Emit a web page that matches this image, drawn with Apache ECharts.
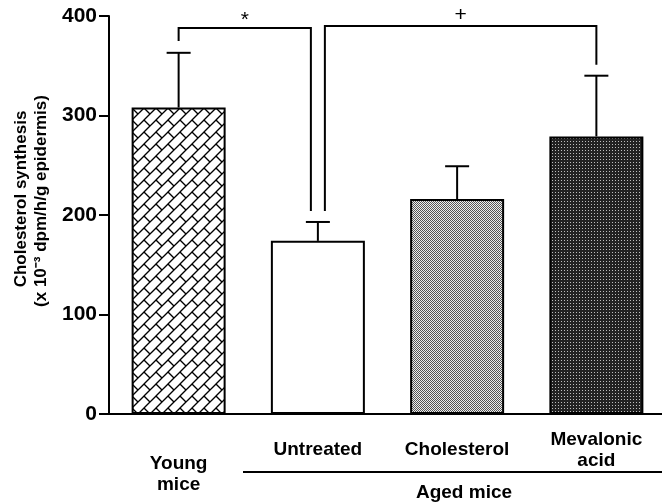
<!DOCTYPE html>
<html><head><meta charset="utf-8">
<script src="https://cdn.jsdelivr.net/npm/echarts@6/dist/echarts.min.js"></script>
<style>html,body{margin:0;padding:0;background:#fff}#c{width:662px;height:504px}</style>
</head><body><div id="c"></div>
<script>
// ---- data ----
const categories = ['Young\nmice', 'Untreated', 'Cholesterol', 'Mevalonic\nacid'];
const means = [308, 174, 216, 279];
const errorTops = [363, 193, 249, 340];
const yTicks = [0, 100, 200, 300, 400];
const brackets = [
  { from: 0, to: 1, top: 388, fromEnd: 375, toEnd: 204, label: '*' },
  { from: 1, to: 3, top: 390, fromEnd: 204, toEnd: 351, label: '+' }
];
const groupLabel = 'Aged mice';
const yTitle1 = 'Cholesterol synthesis';
const yTitle2 = '(x 10\u207B\u00B3 dpm/h/g epidermis)';

// ---- patterns ----
function brickPattern(T) {
  const c = document.createElement('canvas'); c.width = c.height = T;
  const g = c.getContext('2d');
  g.fillStyle = '#fff'; g.fillRect(0, 0, T, T);
  g.strokeStyle = '#000'; g.lineWidth = 1.3; g.lineCap = 'butt';
  for (const k of [0, 1, 2]) {
    g.beginPath(); g.moveTo(-2, k * T + 2); g.lineTo(T + 2, k * T - T - 2); g.stroke();
  }
  for (const dx of [-T, 0, T]) for (const dy of [-T, 0, T]) {
    g.beginPath(); g.moveTo(dx, dy); g.lineTo(dx + T / 2, dy + T / 2); g.stroke();
  }
  return { image: c, repeat: 'repeat' };
}
function dotPattern(n, bg, dot) {
  const c = document.createElement('canvas'); c.width = c.height = n;
  const g = c.getContext('2d');
  g.fillStyle = bg; g.fillRect(0, 0, n, n);
  g.fillStyle = dot;
  if (n === 2) { g.fillRect(0, 0, 1, 1); g.fillRect(1, 1, 1, 1); }
  else { g.fillRect(0, 0, 1, 1); }
  return { image: c, repeat: 'repeat' };
}
const fills = [brickPattern(12), '#ffffff', dotPattern(2, '#eeeeee', '#555555'), dotPattern(3, '#222222', '#bdbdbd')];

const FONT = "'Liberation Sans', Arial, Helvetica, sans-serif";
const chart = echarts.init(document.getElementById('c'), null, { renderer: 'canvas' });

const usedAsTo = new Set(brackets.map(b => b.to));
const usedAsFrom = new Set(brackets.map(b => b.from));
const GAP = 7;
const labelTok = { fontFamily: FONT, fontWeight: 'bold', fontSize: 19, lineHeight: 21, color: '#000', align: 'center' };

chart.setOption({
  animation: false,
  backgroundColor: '#fff',
  grid: { left: 109, top: 16, width: 557, height: 398, containLabel: false, outerBoundsMode: 'none' },
  xAxis: {
    type: 'category',
    data: categories,
    axisLine: { lineStyle: { color: '#000', width: 2 } },
    axisTick: { alignWithLabel: true, length: 9, lineStyle: { color: '#000', width: 2 } },
    axisLabel: {
      color: '#000', fontFamily: FONT, fontWeight: 'bold', fontSize: 19,
      lineHeight: 21, verticalAlign: 'middle', margin: 36, interval: 0, hideOverlap: false,
      formatter: (v, i) => i === 0
        ? '{sp| }\n' + v.split('\n').map(s => '{t|' + s + '}').join('\n')
        : v,
      rich: {
        sp: { fontSize: 2, lineHeight: 48 },
        t: labelTok
      }
    },
    splitLine: { show: false }
  },
  yAxis: {
    type: 'value', min: yTicks[0], max: yTicks[yTicks.length - 1], interval: 100,
    axisLine: { show: true, lineStyle: { color: '#000', width: 2 } },
    axisTick: { show: true, length: 10, lineStyle: { color: '#000', width: 2 } },
    axisLabel: { color: '#000', fontFamily: FONT, fontWeight: 'bold', fontSize: 21, margin: 12 },
    splitLine: { show: false }
  },
  series: [
    {
      type: 'bar', barWidth: 94, z: 2,
      data: means.map((v, i) => ({
        value: v,
        itemStyle: { color: fills[i], borderColor: '#000', borderWidth: 2 }
      }))
    },
    {
      type: 'custom', z: 3,
      data: means.map((v, i) => [i, v, errorTops[i]]),
      encode: { x: 0, y: [1, 2] },
      renderItem: (params, api) => {
        const i = api.value(0);
        const p0 = api.coord([i, api.value(1)]);
        const p1 = api.coord([i, api.value(2)]);
        const st = { stroke: '#000', lineWidth: 2 };
        return {
          type: 'group', children: [
            { type: 'line', shape: { x1: p0[0], y1: p0[1], x2: p1[0], y2: p1[1] }, style: st },
            { type: 'line', shape: { x1: p1[0] - 12, y1: p1[1], x2: p1[0] + 12, y2: p1[1] }, style: st }
          ]
        };
      }
    },
    {
      type: 'custom', z: 3,
      data: brackets.map(b => [b.from, b.top]),
      encode: { x: 0, y: 1 },
      renderItem: (params, api) => {
        const b = brackets[params.dataIndex];
        const pf = api.coord([b.from, b.fromEnd]);
        const pt = api.coord([b.to, b.toEnd]);
        const yTop = api.coord([b.from, b.top])[1];
        const xf = pf[0] + (usedAsTo.has(b.from) ? GAP : 0);
        const xt = pt[0] - (usedAsFrom.has(b.to) ? GAP : 0);
        return {
          type: 'group', children: [
            { type: 'polyline', shape: { points: [[xf, pf[1]], [xf, yTop], [xt, yTop], [xt, pt[1]]] },
              style: { stroke: '#000', lineWidth: 2, fill: null } },
            { type: 'text', style: { text: b.label, x: (xf + xt) / 2, y: yTop - (b.label === '*' ? 8 : 11),
              align: 'center', verticalAlign: 'middle', fontFamily: FONT, fontSize: 21, fill: '#000' } }
          ]
        };
      }
    }
  ],
  graphic: [
    { type: 'text', x: 21, y: 199, rotation: Math.PI / 2,
      style: { text: yTitle1, x: 0, y: 0, align: 'center', verticalAlign: 'middle',
        fontFamily: FONT, fontWeight: 'bold', fontSize: 17, fill: '#000' } },
    { type: 'text', x: 41, y: 201, rotation: Math.PI / 2,
      style: { text: yTitle2, x: 0, y: 0, align: 'center', verticalAlign: 'middle',
        fontFamily: FONT, fontWeight: 'bold', fontSize: 17, fill: '#000' } },
    { type: 'line', shape: { x1: 243, y1: 472, x2: 662, y2: 472 }, style: { stroke: '#000', lineWidth: 2 } },
    { type: 'text', x: 464, y: 493,
      style: { text: groupLabel, x: 0, y: 0, align: 'center', verticalAlign: 'middle',
        fontFamily: FONT, fontWeight: 'bold', fontSize: 19, fill: '#000' } }
  ]
});
</script>
</body></html>
